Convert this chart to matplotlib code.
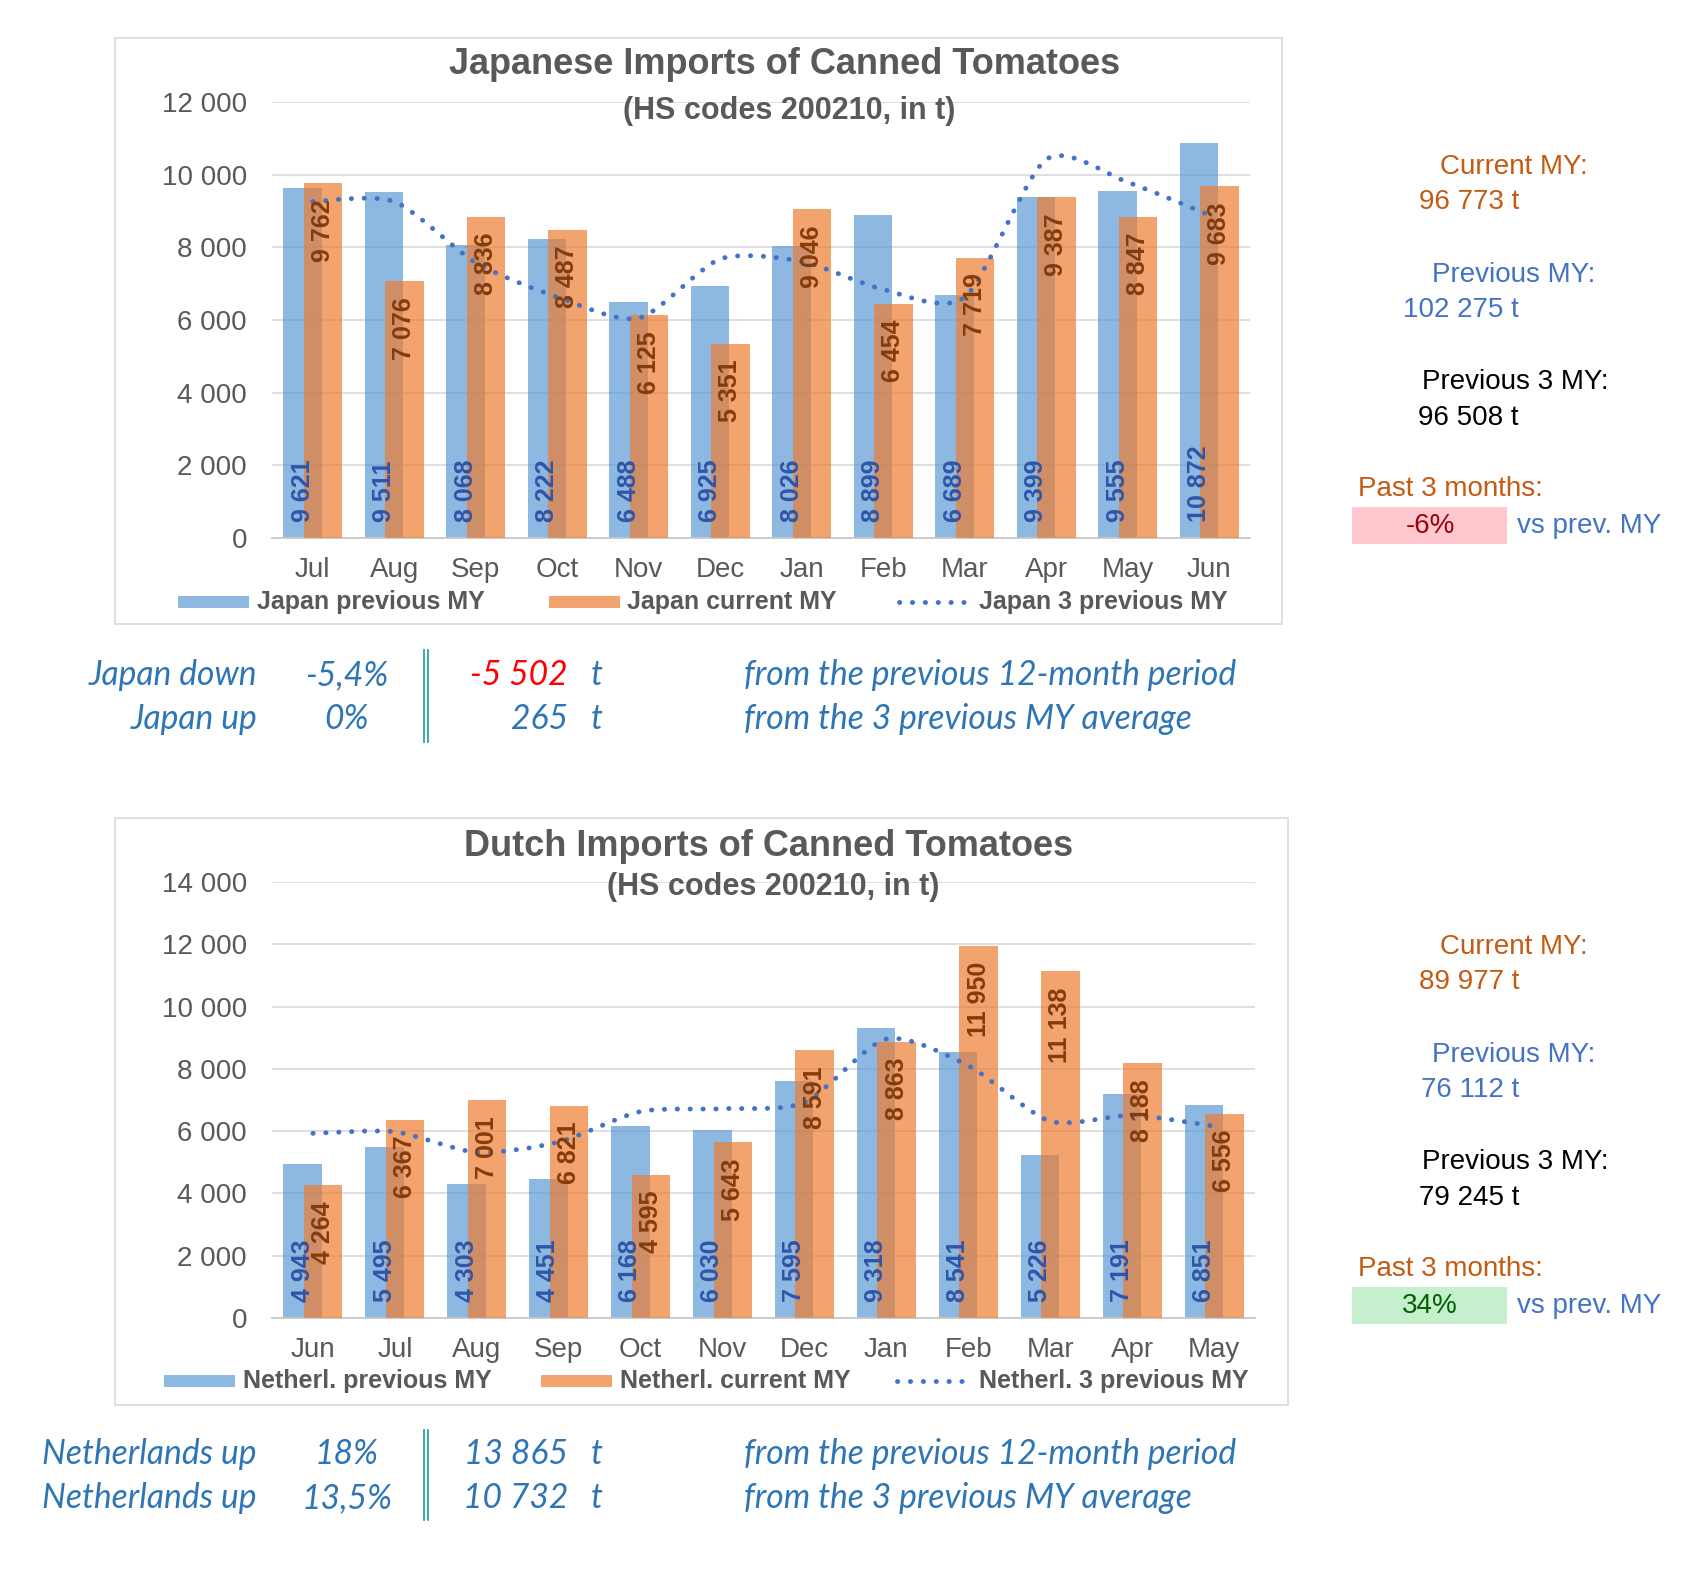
import numpy as np
import matplotlib
matplotlib.use("Agg")
import matplotlib.pyplot as plt
from matplotlib.path import Path
from matplotlib.patches import PathPatch, Rectangle
from matplotlib.lines import Line2D

# ---------------- data ----------------
jp_months = ["Jul", "Aug", "Sep", "Oct", "Nov", "Dec", "Jan", "Feb", "Mar", "Apr", "May", "Jun"]
jp_prev = [9621, 9511, 8068, 8222, 6488, 6925, 8026, 8899, 6689, 9399, 9555, 10872]
jp_curr = [9762, 7076, 8836, 8487, 6125, 5351, 9046, 6454, 7719, 9387, 8847, 9683]
jp_avg3 = [9260, 9260, 7580, 6630, 6050, 7680, 7610, 6840, 6630, 10420, 9790, 8890]

nl_months = ["Jun", "Jul", "Aug", "Sep", "Oct", "Nov", "Dec", "Jan", "Feb", "Mar", "Apr", "May"]
nl_prev = [4943, 5495, 4303, 4451, 6168, 6030, 7595, 9318, 8541, 5226, 7191, 6851]
nl_curr = [4264, 6367, 7001, 6821, 4595, 5643, 8591, 8863, 11950, 11138, 8188, 6556]
nl_avg3 = [5930, 5980, 5320, 5650, 6630, 6720, 6920, 8960, 8100, 6320, 6510, 6160]

jp_series = ["Japan previous MY", "Japan current MY", "Japan 3 previous MY"]
nl_series = ["Netherl. previous MY", "Netherl. current MY", "Netherl. 3 previous MY"]

jp_summary = ["96 773 t", "102 275 t", "96 508 t", "-6%"]
nl_summary = ["89 977 t", "76 112 t", "79 245 t", "34%"]

jp_rows = [["Japan down", "-5,4%", "-5 502", "from the previous 12-month period"],
           ["Japan up", "0%", "265", "from the 3 previous MY average"]]
nl_rows = [["Netherlands up", "18%", "13 865", "from the previous 12-month period"],
           ["Netherlands up", "13,5%", "10 732", "from the 3 previous MY average"]]

# ---------------- style ----------------
W, H, DPI = 1690, 1580, 100
BLUE = "#5B9BD5"
ORANGE = "#ED7D31"
LINE = "#4472C4"
GRID = "#D9D9D9"
TXT = "#595959"
LBL_BLUE = "#2F55A8"
LBL_ORANGE = "#843C0C"
ROW_BLUE = "#2E75B6"
SANS = ["Liberation Sans", "DejaVu Sans"]
ITAL = ["Lato", "DejaVu Sans"]

plt.rcParams["font.family"] = SANS

fig = plt.figure(figsize=(W / DPI, H / DPI), dpi=DPI, facecolor="white")

bg = fig.add_axes([0, 0, 1, 1], zorder=-1)
bg.set_xlim(0, W); bg.set_ylim(H, 0); bg.axis("off")
fg = fig.add_axes([0, 0, 1, 1], zorder=5)
fg.set_xlim(0, W); fg.set_ylim(H, 0); fg.axis("off"); fg.patch.set_alpha(0)


def smooth_path(x, y, k=8.0):
    x = np.asarray(x, float); y = np.asarray(y, float)
    n = len(x)
    verts = [(x[0], y[0])]
    codes = [Path.MOVETO]
    for i in range(n - 1):
        i0 = max(i - 1, 0); i3 = min(i + 2, n - 1)
        c1 = (x[i] + (x[i + 1] - x[i0]) / k, y[i] + (y[i + 1] - y[i0]) / k)
        c2 = (x[i + 1] - (x[i3] - x[i]) / k, y[i + 1] - (y[i3] - y[i]) / k)
        verts += [c1, c2, (x[i + 1], y[i + 1])]
        codes += [Path.CURVE4] * 3
    return Path(verts, codes)


def fmt(v):
    return f"{int(v):,}".replace(",", " ")


def chart(box, area, months, prev, curr, avg, ymax, title, title_y, sub_y, title_x,
          legend_y, leg_x, names):
    bx0, by0, bx1, by1 = box
    bg.add_patch(Rectangle((bx0, by0), bx1 - bx0, by1 - by0, facecolor="white",
                           edgecolor="#D9D9D9", lw=1.2))
    x0, y0, x1, y1 = area
    ax = fig.add_axes([x0 / W, 1 - y1 / H, (x1 - x0) / W, (y1 - y0) / H], zorder=0)
    ax.patch.set_alpha(0)
    xs = np.arange(len(months))
    off, bw = 0.125, 0.47
    ax.bar(xs - off, prev, width=bw, color=BLUE, alpha=0.7, zorder=2)
    ax.bar(xs + off, curr, width=bw, color=ORANGE, alpha=0.7, zorder=3)
    ax.add_patch(PathPatch(smooth_path(xs, avg), fill=False, edgecolor=LINE, lw=3.5,
                           linestyle=(0, (0.05, 2.6)), capstyle="round", zorder=4))
    for xi, v in zip(xs, prev):
        ax.annotate(fmt(v), xy=(xi - off, 0), xytext=(0, 16), textcoords="offset pixels",
                    rotation=90, ha="center", va="bottom", fontsize=18, fontweight="bold",
                    color=LBL_BLUE, zorder=5)
    for xi, v in zip(xs, curr):
        ax.annotate(fmt(v), xy=(xi + off, v), xytext=(0, -16), textcoords="offset pixels",
                    rotation=90, ha="center", va="top", fontsize=18, fontweight="bold",
                    color=LBL_ORANGE, zorder=5)
    ax.set_xlim(-0.5, len(months) - 0.5)
    ax.set_ylim(0, ymax)
    ax.set_yticks(np.arange(0, ymax + 1, 2000))
    ax.set_yticklabels([fmt(t) for t in np.arange(0, ymax + 1, 2000)])
    ax.set_xticks(xs)
    ax.set_xticklabels(months)
    ax.tick_params(axis="both", length=0, labelsize=20, labelcolor=TXT)
    ax.tick_params(axis="y", pad=18)
    ax.tick_params(axis="x", pad=14)
    ax.grid(axis="y", color=GRID, lw=1.2, zorder=0)
    ax.set_axisbelow(True)
    for s in ["top", "right", "left"]:
        ax.spines[s].set_visible(False)
    ax.spines["bottom"].set_color("#C8C8C8")
    ax.spines["bottom"].set_linewidth(1.3)

    fg.text(title_x, title_y, title, ha="center", va="center", fontsize=26,
            fontweight="bold", color=TXT)
    fg.text(title_x + 4, sub_y, "(HS codes 200210, in t)", ha="center", va="center",
            fontsize=22, fontweight="bold", color=TXT)

    # legend
    (p0, p1, t0), (o0, o1, u0), (d0, d1, e0) = leg_x
    fg.add_patch(Rectangle((p0, legend_y - 6), p1 - p0, 12, facecolor=BLUE, alpha=0.7, lw=0))
    fg.add_patch(Rectangle((o0, legend_y - 6), o1 - o0, 12, facecolor=ORANGE, alpha=0.7, lw=0))
    fg.add_line(Line2D([d0, d1], [legend_y, legend_y], color=LINE, lw=3.5,
                       linestyle=(0, (0.05, 2.6)), dash_capstyle="round"))
    for tx, nm in zip([t0, u0, e0], names):
        fg.text(tx, legend_y, nm, ha="left", va="center", fontsize=18,
                fontweight="bold", color=TXT)
    return ax


chart((115, 38, 1282, 624), (272, 102, 1250, 538), jp_months, jp_prev, jp_curr, jp_avg3,
      12000, "Japanese Imports of Canned Tomatoes", 64, 111, 785, 602,
      [(178, 249, 257), (549, 620, 627), (899, 966, 979)], jp_series)
chart((115, 818, 1288, 1405), (272, 882, 1255, 1318), nl_months, nl_prev, nl_curr, nl_avg3,
      14000, "Dutch Imports of Canned Tomatoes", 846, 887, 769, 1381,
      [(164, 235, 243), (541, 612, 620), (897, 966, 979)], nl_series)

# right summary panels
C_OR = "#C55A11"
C_BL = "#4472C4"


def summary(y0, vals, box_col, pct_col):
    fg.text(1514, y0, "Current MY:", ha="center", va="center", fontsize=20, color=C_OR)
    fg.text(1519, y0 + 35, vals[0], ha="right", va="center", fontsize=20, color=C_OR)
    fg.text(1514, y0 + 108, "Previous MY:", ha="center", va="center", fontsize=20, color=C_BL)
    fg.text(1519, y0 + 143, vals[1], ha="right", va="center", fontsize=20, color=C_BL)
    fg.text(1515, y0 + 215, "Previous 3 MY:", ha="center", va="center", fontsize=20, color="black")
    fg.text(1519, y0 + 251, vals[2], ha="right", va="center", fontsize=20, color="black")
    fg.text(1358, y0 + 322, "Past 3 months:", ha="left", va="center", fontsize=20, color=C_OR)
    fg.add_patch(Rectangle((1352, y0 + 340), 155, 37, facecolor=box_col, lw=0))
    fg.text(1430, y0 + 359, vals[3], ha="center", va="center", fontsize=20, color=pct_col)
    fg.text(1517, y0 + 359, "vs prev. MY", ha="left", va="center", fontsize=20, color=C_BL)


summary(167, jp_summary, "#FFC7CE", "#9C0006")
summary(947, nl_summary, "#C6EFCE", "#006100")


def rows(ys, data, line_y, first_red):
    for k, (y, r) in enumerate(zip(ys, data)):
        kw = dict(va="center", fontsize=24.2, style="italic", family=ITAL)
        fg.text(257, y, r[0], ha="right", color=ROW_BLUE, **kw)
        fg.text(347, y, r[1], ha="center", color=ROW_BLUE, **kw)
        fg.text(568, y, r[2], ha="right", color=("#FF0000" if (first_red and k == 0) else ROW_BLUE), **kw)
        fg.text(591, y, "t", ha="left", color=ROW_BLUE, **kw)
        fg.text(744, y, r[3], ha="left", color=ROW_BLUE, **kw)
    for xv in (424, 428.5):
        fg.add_line(Line2D([xv, xv], line_y, color="#1A9A94", lw=1.2))


rows([675, 719], jp_rows, [650, 742], True)
rows([1454, 1498], nl_rows, [1430, 1520], False)

fig.savefig("out.png", dpi=DPI, facecolor="white")
